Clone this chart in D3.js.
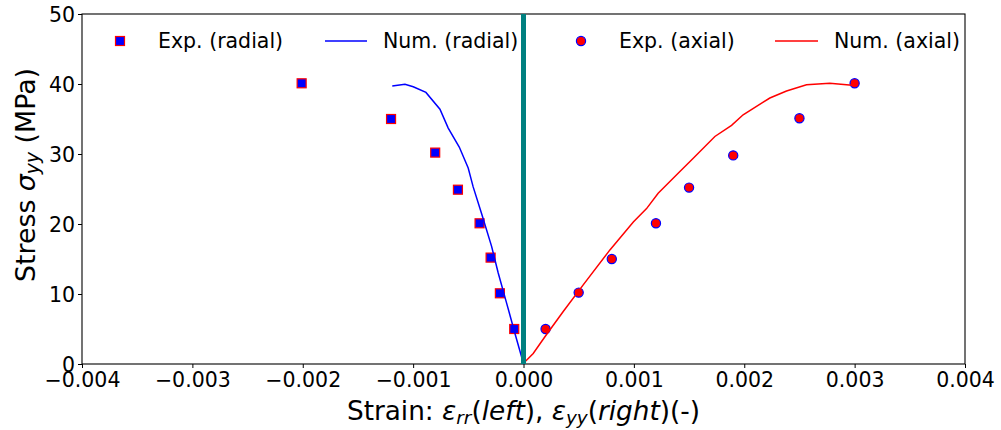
<!DOCTYPE html>
<html>
<head>
<meta charset="utf-8">
<script src="https://cdn.jsdelivr.net/npm/d3@7"></script>
<style>
  html, body { margin: 0; padding: 0; background: #fff; }
  svg { display: block; font-family: "DejaVu Sans", sans-serif; }
</style>
</head>
<body>
<svg id="chart" width="1001" height="430"></svg>
<script>
// Experimental radial strain (negative) vs stress
const expRadialStrain = [-0.00201, -0.0012, -0.0008, -0.000594, -0.000398, -0.000298, -0.000214, -0.000084];
const expRadialStress = [40.1, 35.0, 30.2, 24.9, 20.1, 15.2, 10.1, 5.0];

// Numerical radial curve
const numRadialStrain = [-0.001189, -0.001074, -0.000999, -0.000884, -0.000757, -0.000682, -0.000582, -0.000501, -0.000456, -0.000380, -0.000289, -0.000229, -0.000153, -0.000078, -0.000017, 0.0];
const numRadialStress = [39.7, 39.96, 39.6, 38.8, 36.4, 33.7, 31.0, 28.0, 25.3, 21.5, 16.8, 13.0, 8.7, 4.4, 1.0, 0.0];

// Experimental axial strain vs stress
const expAxialStrain = [0.0002, 0.0005, 0.0008, 0.0012, 0.0015, 0.0019, 0.0025, 0.003];
const expAxialStress = [5.0, 10.2, 15.0, 20.1, 25.2, 29.8, 35.1, 40.1];

// Numerical axial curve
const numAxialStrain = [0.0, 0.000088, 0.000194, 0.000360, 0.000541, 0.000783, 0.000995, 0.001115, 0.001220, 0.001417, 0.001538, 0.001734, 0.001885, 0.001990, 0.002232, 0.002383, 0.002564, 0.002775, 0.003002];
const numAxialStress = [0.1, 1.5, 3.9, 7.5, 11.3, 16.3, 20.3, 22.2, 24.4, 27.5, 29.4, 32.5, 34.1, 35.6, 38.0, 39.0, 39.9, 40.1, 39.8];

const xTicks = [-0.004, -0.003, -0.002, -0.001, 0, 0.001, 0.002, 0.003, 0.004];
const yTicks = [0, 10, 20, 30, 40, 50];

const legendLabels = ["Exp. (radial)", "Num. (radial)", "Exp. (axial)", "Num. (axial)"];

const svg = d3.select("#chart");
const plotLeft = 82, plotRight = 965, plotTop = 14, plotBottom = 364;

const x = d3.scaleLinear().domain([-0.004, 0.004]).range([plotLeft, plotRight]);
const y = d3.scaleLinear().domain([0, 50]).range([plotBottom, plotTop]);

const zip = (a, b) => a.map((v, i) => [v, b[i]]);

// Axes
const xAxis = d3.axisBottom(x).tickValues(xTicks).tickFormat(d3.format(".3f")).tickSizeOuter(0).tickSize(4).tickPadding(3);
const yAxis = d3.axisLeft(y).tickValues(yTicks).tickFormat(d3.format("d")).tickSizeOuter(0).tickSize(4).tickPadding(3);

const gx = svg.append("g").attr("transform", `translate(0,${plotBottom})`).call(xAxis);
const gy = svg.append("g").attr("transform", `translate(${plotLeft},0)`).call(yAxis);
[gx, gy].forEach(g => {
  g.select(".domain").remove();
  g.selectAll("text").attr("font-size", 20.5).attr("font-family", "DejaVu Sans").attr("fill", "#000");
  g.selectAll("line").attr("stroke", "#000").attr("stroke-width", 1);
});
gx.selectAll("text").attr("dy", "0.78em");
gy.selectAll("text").attr("dy", "0.36em");

// Frame
svg.append("rect")
  .attr("x", plotLeft).attr("y", plotTop)
  .attr("width", plotRight - plotLeft).attr("height", plotBottom - plotTop)
  .attr("fill", "none").attr("stroke", "#000").attr("stroke-width", 1.1);

const plot = svg.append("g");

// Experimental radial: blue squares with red edge
plot.selectAll("rect.er").data(zip(expRadialStrain, expRadialStress)).join("rect")
  .attr("class", "er")
  .attr("x", d => x(d[0]) - 4.5).attr("y", d => y(d[1]) - 4.5)
  .attr("width", 9).attr("height", 9)
  .attr("fill", "blue").attr("stroke", "red").attr("stroke-width", 1.2);

const line = d3.line().x(d => x(d[0])).y(d => y(d[1]));

plot.append("path").datum(zip(numRadialStrain, numRadialStress))
  .attr("d", line).attr("fill", "none").attr("stroke", "blue").attr("stroke-width", 1.5);

// Experimental axial: red circles with blue edge
plot.selectAll("circle.ea").data(zip(expAxialStrain, expAxialStress)).join("circle")
  .attr("class", "ea")
  .attr("cx", d => x(d[0])).attr("cy", d => y(d[1]))
  .attr("r", 4.6)
  .attr("fill", "red").attr("stroke", "blue").attr("stroke-width", 1.2);

plot.append("path").datum(zip(numAxialStrain, numAxialStress))
  .attr("d", line).attr("fill", "none").attr("stroke", "red").attr("stroke-width", 1.5);

// Vertical reference at zero strain
plot.append("line")
  .attr("x1", x(0)).attr("x2", x(0)).attr("y1", plotTop).attr("y2", plotBottom)
  .attr("stroke", "#008080").attr("stroke-width", 5);

// Legend (single row, no frame)
const legY = 41;
const leg = svg.append("g").attr("font-size", 20.5).attr("fill", "#000");
leg.append("rect").attr("x", 115.5).attr("y", legY - 4.5).attr("width", 9).attr("height", 9)
  .attr("fill", "blue").attr("stroke", "red").attr("stroke-width", 1.2);
leg.append("line").attr("x1", 325).attr("x2", 367).attr("y1", legY).attr("y2", legY)
  .attr("stroke", "blue").attr("stroke-width", 1.5);
leg.append("circle").attr("cx", 581).attr("cy", legY).attr("r", 4.6)
  .attr("fill", "red").attr("stroke", "blue").attr("stroke-width", 1.2);
leg.append("line").attr("x1", 775).attr("x2", 818).attr("y1", legY).attr("y2", legY)
  .attr("stroke", "red").attr("stroke-width", 1.5);
const legX = [158, 383, 619, 834];
legendLabels.forEach((t, i) => {
  leg.append("text").attr("x", legX[i]).attr("y", legY).attr("dy", "0.36em").text(t);
});

// Axis titles
const xl = svg.append("text").attr("x", (plotLeft + plotRight) / 2).attr("y", 420)
  .attr("text-anchor", "middle").attr("font-size", 26.3).attr("fill", "#000");
xl.append("tspan").text("Strain: ");
xl.append("tspan").attr("font-style", "italic").text("ε");
xl.append("tspan").attr("font-style", "italic").attr("font-size", 18.4).attr("dy", 4).text("rr");
xl.append("tspan").attr("dy", -4).text("(");
xl.append("tspan").attr("font-style", "italic").text("left");
xl.append("tspan").text("), ");
xl.append("tspan").attr("font-style", "italic").text("ε");
xl.append("tspan").attr("font-style", "italic").attr("font-size", 18.4).attr("dy", 4).text("yy");
xl.append("tspan").attr("dy", -4).text("(");
xl.append("tspan").attr("font-style", "italic").text("right");
xl.append("tspan").text(")(-)");

const yl = svg.append("text")
  .attr("transform", `translate(35,${(plotTop + plotBottom) / 2 - 14}) rotate(-90)`)
  .attr("text-anchor", "middle").attr("font-size", 26.8).attr("fill", "#000");
yl.append("tspan").text("Stress ");
yl.append("tspan").attr("font-style", "italic").text("σ");
yl.append("tspan").attr("font-style", "italic").attr("font-size", 18.8).attr("dy", 4).text("yy");
yl.append("tspan").attr("dy", -4).text(" (MPa)");
</script>
</body>
</html>
